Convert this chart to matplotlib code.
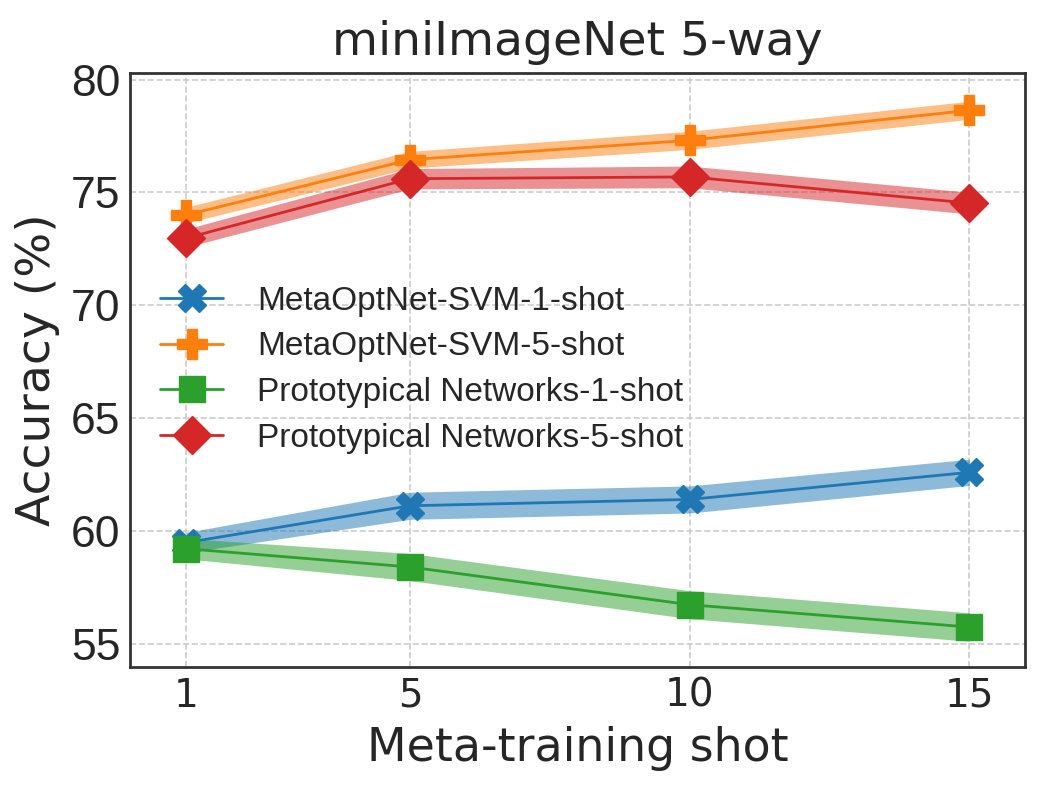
import matplotlib
matplotlib.use('Agg')
import matplotlib.pyplot as plt
import numpy as np

# meta-training shots and accuracies
shots = [1, 5, 10, 15]

svm_1shot = [59.5, 61.13, 61.41, 62.61]
svm_1shot_err = [0.45, 0.6, 0.6, 0.58]
svm_5shot = [74.0, 76.45, 77.31, 78.64]
svm_5shot_err = [0.35, 0.37, 0.4, 0.4]
proto_1shot = [59.23, 58.42, 56.75, 55.76]
proto_1shot_err = [0.45, 0.6, 0.62, 0.63]
proto_5shot = [72.98, 75.61, 75.69, 74.53]
proto_5shot_err = [0.4, 0.45, 0.48, 0.48]

labels = ['MetaOptNet-SVM-1-shot', 'MetaOptNet-SVM-5-shot',
          'Prototypical Networks-1-shot', 'Prototypical Networks-5-shot']
colors = ['#1f77b4', '#ff7f0e', '#2ca02c', '#d62728']
markers = ['X', 'P', 's', 'D']
marker_sizes = [20, 21, 19, 19]


def draw(ax):
    series = [(svm_1shot, svm_1shot_err), (svm_5shot, svm_5shot_err),
              (proto_1shot, proto_1shot_err), (proto_5shot, proto_5shot_err)]
    for i, (vals, err) in enumerate(series):
        vals = np.array(vals)
        err = np.array(err)
        ax.fill_between(shots, vals - err, vals + err, color=colors[i],
                        alpha=0.5, linewidth=0)
        ax.plot(shots, vals, color=colors[i], marker=markers[i],
                markersize=marker_sizes[i], linewidth=2, label=labels[i])


def main():
    plt.style.use('seaborn-v0_8-whitegrid')
    plt.rcParams['font.family'] = ['Liberation Sans', 'DejaVu Sans']
    plt.rcParams['text.color'] = '#262626'
    plt.rcParams['axes.labelcolor'] = '#262626'
    plt.rcParams['xtick.color'] = '#262626'
    plt.rcParams['ytick.color'] = '#262626'

    fig, ax = plt.subplots(figsize=(10.41, 7.91), dpi=100)
    fig.subplots_adjust(left=0.125, right=0.985, top=0.908, bottom=0.157)

    draw(ax)

    ax.set_xlim(0, 16)
    ax.set_ylim(54.0, 80.3)
    ax.set_xticks(shots)
    ax.set_yticks([55, 60, 65, 70, 75, 80])
    ax.tick_params(axis='x', labelsize=28, pad=7)
    ax.tick_params(axis='y', labelsize=32, pad=7)
    for lab in ax.get_xticklabels():
        lab.set_fontfamily('DejaVu Sans')
    ax.grid(True, linestyle='--', color='#cccccc', linewidth=1.2)
    for spine in ax.spines.values():
        spine.set_visible(True)
        spine.set_color('#333333')
        spine.set_linewidth(2)

    ax.set_title('miniImageNet 5-way', fontsize=34, pad=13,
                 family='DejaVu Sans')
    ax.set_xlabel('Meta-training shot', fontsize=33, family='DejaVu Sans',
                  labelpad=8)
    ax.set_ylabel('Accuracy (%)', fontsize=34, family='DejaVu Sans',
                  labelpad=8)
    ax.legend(loc='center left', fontsize=24, frameon=False,
              handlelength=1.9, handletextpad=1.0, labelspacing=0.44)

    fig.savefig('out.png', dpi=100)


if __name__ == '__main__':
    main()
